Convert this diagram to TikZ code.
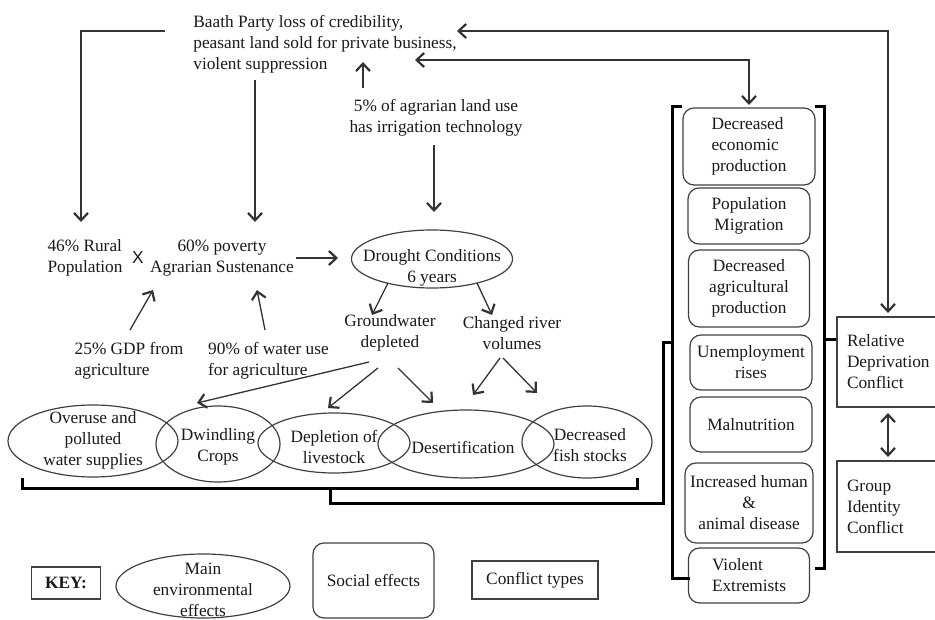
\documentclass[tikz,border=0pt]{standalone}
\usepackage{fontspec}
\setmainfont{Liberation Serif}
\newfontfamily\xfont{Liberation Sans}
\usetikzlibrary{shapes.geometric,arrows.meta,calc}

\tikzset{
  every node/.style={font=\fontsize{17.3}{21}\selectfont, text=black!90},
  barb/.tip={Straight Barb[length=7.5pt,width=14pt,line width=2.2pt]},
  txt/.style={align=center, inner sep=1pt},
  envfx/.style={ellipse, draw=black!75, line width=1.2pt, inner sep=0pt},
  socfx/.style={rectangle, rounded corners=11pt, draw=black!75, line width=1.2pt, inner sep=0pt, align=center},
  conflict/.style={rectangle, draw=black!75, line width=1.2pt, inner sep=0pt, align=left, text width=82pt},
  arr/.style={draw=black!80, line width=1.3pt, -barb},
  dbl/.style={draw=black!80, line width=1.3pt, barb-barb},
  brace/.style={draw=black, line width=3pt},
}

\begin{document}
\begin{tikzpicture}[x=1pt,y=-1pt]
\useasboundingbox (0,0) rectangle (935,620);

% causes
\node[txt, align=left] (baath) at (325,44) {Baath Party loss of credibility,\\peasant land sold for private business,\\violent suppression};
\node[txt] (irrig) at (436,118) {5\% of agrarian land use\\has irrigation technology};
\node[txt, align=left] (rural) at (85,258) {46\% Rural\\Population};
\node[txt, font=\xfont\fontsize{17.3}{21}\selectfont] (times) at (138,258) {X};
\node[txt] (pov) at (222,258) {60\% poverty\\Agrarian Sustenance};
\node[envfx, minimum width=161pt, minimum height=58pt] (drought) at (432,259) {};
\node[txt] (drought-t) at (432,268) {Drought Conditions\\6 years};
\node[txt, align=left] (gdp) at (129,361) {25\% GDP from\\agriculture};
\node[txt, align=left] (water) at (268.5,361) {90\% of water use\\for agriculture};
\node[txt] (gw) at (390,333) {Groundwater\\depleted};
\node[txt] (river) at (512,333) {Changed river\\volumes};

% main environmental effects
\node[envfx, minimum width=170pt, minimum height=72pt] (overuse) at (93,441) {};
\node[envfx, minimum width=124pt, minimum height=76pt] (dwin) at (218,444) {};
\node[envfx, minimum width=152pt, minimum height=60pt] (depl) at (334,443) {};
\node[envfx, minimum width=176pt, minimum height=68pt] (desert) at (466,444) {};
\node[envfx, minimum width=130pt, minimum height=72pt] (fish) at (587,442) {};
\node[txt] (overuse-t) at (93,440) {Overuse and\\polluted\\water supplies};
\node[txt] (dwin-t) at (218,447) {Dwindling\\Crops};
\node[txt] (depl-t) at (334,447) {Depletion of\\livestock};
\node[txt] (desert-t) at (463,447) {Desertification};
\node[txt] (fish-t) at (590,445) {Decreased\\fish stocks};

% social effects
\node[socfx, align=left, minimum width=132pt, minimum height=77pt] (econ) at (749,146.5) {Decreased\\economic\\production};
\node[socfx, minimum width=122pt, minimum height=56pt] (migr) at (749,216) {Population\\Migration};
\node[socfx, minimum width=121pt, minimum height=77pt] (agri) at (749,288.5) {Decreased\\agricultural\\production};
\node[socfx, minimum width=122pt, minimum height=55pt] (unemp) at (751,362.5) {Unemployment\\rises};
\node[socfx, minimum width=122pt, minimum height=55pt] (maln) at (751,424.5) {Malnutrition};
\node[socfx, minimum width=128pt, minimum height=80pt] (disease) at (749,503) {Increased human\\\&\\animal disease};
\node[socfx, align=left, minimum width=121pt, minimum height=55pt] (violent) at (749,575.5) {Violent\\Extremists};

% conflict types
\node[conflict, minimum width=102pt, minimum height=90pt] (relconf) at (888,362) {Relative\\Deprivation\\Conflict};
\node[conflict, minimum width=102pt, minimum height=91pt] (groupconf) at (888,506.5) {Group\\Identity\\Conflict};

% key
\node[draw=black!75, line width=1.2pt, minimum width=69pt, minimum height=32pt, inner sep=0pt, font=\bfseries\fontsize{17.3}{21}\selectfont] (key) at (66,583) {KEY:};
\node[envfx, minimum width=174pt, minimum height=64pt] (key-env) at (203,586) {};
\node[txt] (key-env-t) at (203,590) {Main\\environmental\\effects};
\node[socfx, minimum width=121pt, minimum height=75pt] (key-soc) at (373.5,580.5) {Social effects};
\node[draw=black!75, line width=1.2pt, minimum width=126pt, minimum height=38pt, inner sep=0pt] (key-conf) at (535,580) {Conflict types};

% arrows
\draw[arr] ($(baath)+(-160,-13)$) -| ($(rural)+(-4,-36)$);
\draw[arr] ($(baath)+(-70,36)$) -- ($(pov)+(33,-36)$);
\draw[arr] ($(irrig)+(-73,-30)$) -- ($(baath)+(38,18)$);
\draw[arr] ($(irrig)+(-2,27)$) -- ($(drought)+(2,-47)$);
\draw[arr] ($(pov)+(74,0)$) -- ($(drought)+(-94,-1)$);
\draw[arr] ($(gdp)+(1,-31)$) -- ($(pov)+(-69,32)$);
\draw[arr] ($(water)+(-3.5,-31)$) -- ($(pov)+(35,32)$);
\draw[arr] ($(drought)+(-44,24)$) -- ($(gw)+(-18,-18)$);
\draw[arr] ($(drought)+(45,24)$) -- ($(river)+(-20,-18)$);
\draw[arr] ($(gw)+(-21,29)$) -- ($(dwin)+(-21,-41)$);
\draw[arr] ($(gw)+(-12,35)$) -- ($(depl)+(-6,-35)$);
\draw[arr] ($(gw)+(8,35)$) -- ($(desert)+(-33,-41)$);
\draw[arr] ($(river)+(-12,25)$) -- ($(desert)+(7,-49)$);
\draw[arr] ($(river)+(-9,25)$) -- ($(fish)+(-50,-49)$);
\draw[dbl] ($(baath)+(132,-13)$) -| ($(relconf)+(0,-49)$);
\draw[dbl] ($(baath)+(90,16)$) -| ($(econ)+(0,-41.5)$);
\draw[dbl] ($(relconf)+(0,51)$) -- ($(groupconf)+(0,-49.5)$);

% brackets
\draw[brace] (22,478) -- (22,488) -- (637,488) -- (637,478);
\draw[brace] (330,488) -- (330,503) -- (663,503) -- (663,343) -- (672,343);
\draw[brace] (682,107) -- (672,107) -- (672,578) -- (690,578);
\draw[brace] (815,107) -- (824,107) -- (824,568) -- (815,568);
\draw[brace] (824,340) -- ($(relconf.west)+(0,-22)$);
\end{tikzpicture}
\end{document}
